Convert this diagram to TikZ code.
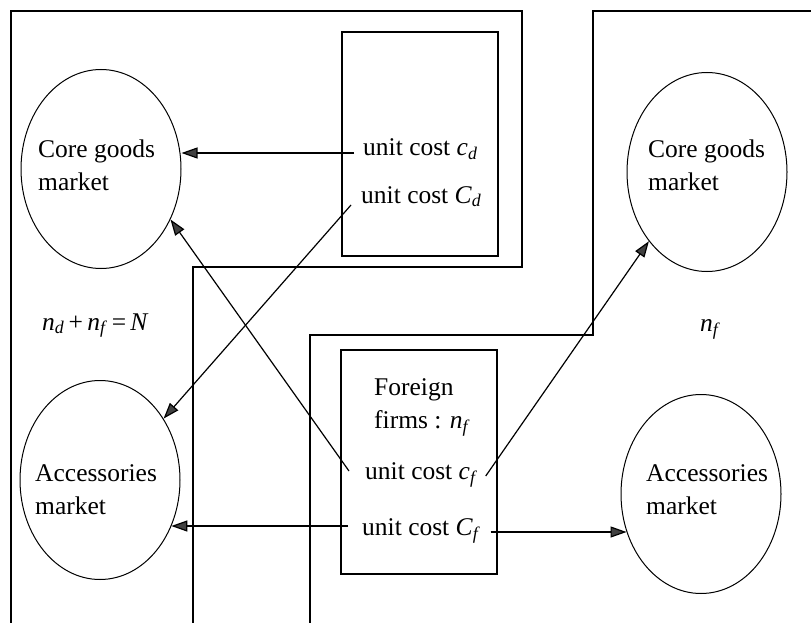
\documentclass[tikz,border=0pt]{standalone}
\usepackage{fontspec}
\setmainfont{Liberation Serif}
\usetikzlibrary{arrows.meta,calc,shapes.geometric}
\newcommand{\vr}[2]{\textit{#1}\textsubscript{\textit{#2}}}
\begin{document}
\begin{tikzpicture}[x=1pt,y=-1pt,
  frame/.style={line width=2pt},
  firmbox/.style={draw,line width=1.1pt,minimum width=156pt,minimum height=224pt,inner sep=0pt},
  mkt/.style={draw,ellipse,line width=1pt,minimum width=160pt,minimum height=199pt,inner sep=0pt},
  lbl/.style={inner sep=0pt,font=\fontsize{25.5pt}{33pt}\selectfont,align=left},
  arr/.style={line width=1.2pt,-{Triangle[length=16pt,width=11pt,fill=black!75]}}]
\useasboundingbox (0,0) rectangle (811,623);
% frames
\draw[frame] (11,623) -- (11,11) -- (522,11) -- (522,267) -- (193,267) -- (193,623);
\draw[frame] (811,11) -- (593,11) -- (593,335) -- (310,335) -- (310,623);
% firm boxes
\node[firmbox] (dbox) at (420,144) {};
\node[firmbox] (fbox) at (419,462) {};
% markets
\node[mkt] (cgL) at (101,169) {};
\node[mkt] (cgR) at (707,172) {};
\node[mkt] (acL) at (100,480) {};
\node[mkt] (acR) at (701,494) {};
\node[lbl,anchor=west] (cgLt) at (38,165) {Core goods\\market};
\node[lbl,anchor=west] (cgRt) at (648,165) {Core goods\\market};
\node[lbl,anchor=west] (acLt) at (35,490) {Accessories\\market};
\node[lbl,anchor=west] (acRt) at (646,490) {Accessories\\market};
% texts
\node[lbl,anchor=base west] (cd) at (363,156) {unit cost \vr{c}{d}};
\node[lbl,anchor=base west] (Cd) at (361,203) {unit cost \vr{C}{d}};
\node[lbl,anchor=base west] (fr1) at (374,395) {Foreign};
\node[lbl,anchor=base west] (fr2) at (374,428) {firms : \vr{n}{f}};
\node[lbl,anchor=base west] (cf) at (365,479) {unit cost \vr{c}{f}};
\node[lbl,anchor=base west] (Cf) at (362,535) {unit cost \vr{C}{f}};
\node[lbl,anchor=base west] (sum) at (42,330) {\vr{n}{d}\,+\,\vr{n}{f}\,=\,\textit{N}};
\node[lbl,anchor=base west] (nf) at (700,331) {\vr{n}{f}};
% arrow starts
\coordinate (s1) at ($(cd.base west)+(-9,-3)$);
\coordinate (s2) at ($(Cd.base west)+(-10,2)$);
\coordinate (s3) at ($(cf.base west)+(-16,-8)$);
\coordinate (s4) at ($(cf.base east)+(8,-3)$);
\coordinate (s5) at ($(Cf.base west)+(-14,-9)$);
\coordinate (s6) at ($(Cf.base east)+(10,-3)$);
% arrows
\draw[arr] (s1) -- (s1 -| cgL.east);
\draw[arr] (s2) -- (acL.44);
\draw[arr] (s3) -- (cgL.-36);
\draw[arr] (s4) -- (cgR.230);
\draw[arr] (s5) -- (s5 -| acL.-33);
\draw[arr] (s6) -- (s6 -| acR.207);
\end{tikzpicture}
\end{document}
